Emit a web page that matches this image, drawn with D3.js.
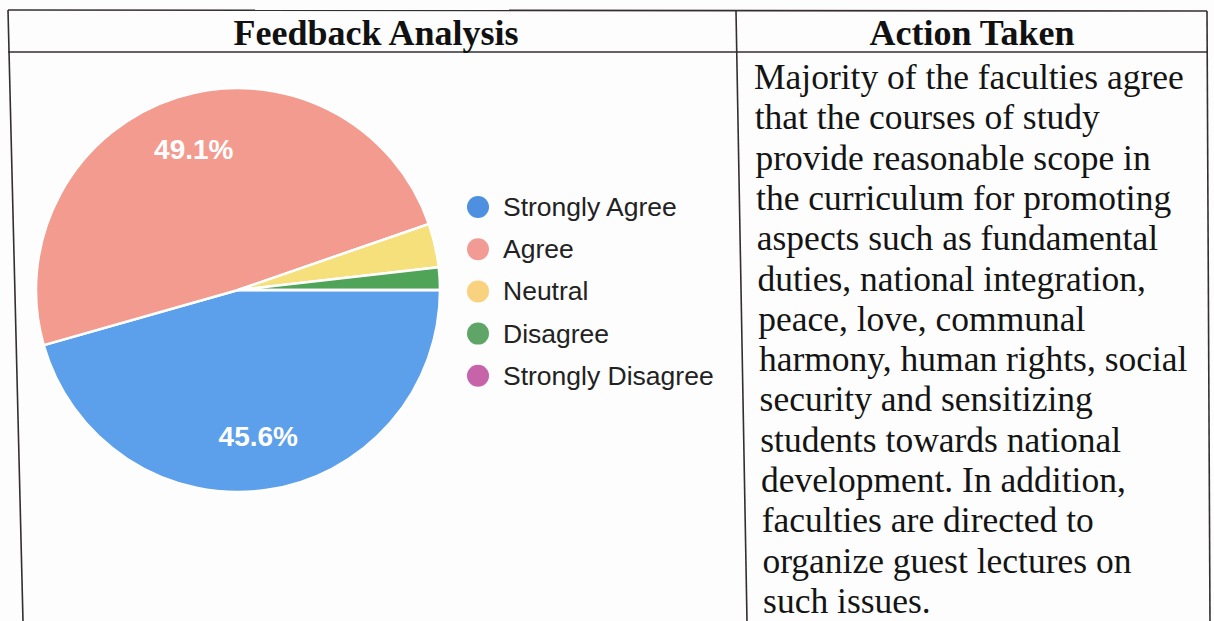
<!DOCTYPE html>
<html>
<head>
<meta charset="utf-8">
<script src="https://cdn.jsdelivr.net/npm/d3@7"></script>
<style>
  body { margin: 0; background: #fdfdfd; }
  svg { display: block; }
</style>
</head>
<body>
<div id="chart"></div>
<script>
// data
var categories = ["Strongly Agree", "Agree", "Neutral", "Disagree", "Strongly Disagree"];
var values = [45.6, 49.1, 3.5, 1.8, 0];
var sliceColors = ["#5c9fea", "#f49b8f", "#f5e07c", "#4fa457", "#c563a7"];
var legendColors = ["#4f8fe0", "#f29a94", "#f8d27e", "#5fa567", "#c763a8"];
var headers = ["Feedback Analysis", "Action Taken"];
var actionLines = [
  "Majority of the faculties agree",
  "that the courses of study",
  "provide reasonable scope in",
  "the curriculum for promoting",
  "aspects such as fundamental",
  "duties, national integration,",
  "peace, love, communal",
  "harmony, human rights, social",
  "security and sensitizing",
  "students towards national",
  "development. In addition,",
  "faculties are directed to",
  "organize guest lectures on",
  "such issues."
];

var svgWidth = 1214;
var svgHeight = 621;

var svg = d3.select("#chart")
  .append("svg")
  .attr("width", svgWidth)
  .attr("height", svgHeight);

// table frame (scan is a bit skewed)
var lineColor = "#352e31";
var frame = [
  [8, 10, 1207, 11],
  [8, 52, 1208, 52],
  [8, 10, 23, 621],
  [736, 11, 747, 621],
  [1207, 11, 1210, 621]
];
svg.append("g").selectAll("line")
  .data(frame)
  .enter()
  .append("line")
  .attr("x1", d => d[0]).attr("y1", d => d[1])
  .attr("x2", d => d[2]).attr("y2", d => d[3])
  .attr("stroke", lineColor)
  .attr("stroke-width", 1.6);

// header texts
svg.append("g").selectAll("text")
  .data(headers)
  .enter()
  .append("text")
  .attr("x", (d, i) => i == 0 ? 376 : 972)
  .attr("y", 45)
  .attr("text-anchor", "middle")
  .attr("font-family", "'Liberation Serif', 'Times New Roman', serif")
  .attr("font-weight", "bold")
  .attr("font-size", "36px")
  .attr("fill", "#111")
  .text(d => d);

// pie
var cx = 238, cy = 290, radius = 202;

var pie = d3.pie()
  .sort(null)
  .startAngle(Math.PI / 2)
  .endAngle(Math.PI / 2 + 2 * Math.PI)
  .value(d => d);

var arc = d3.arc().innerRadius(0).outerRadius(radius);
var labelArc = d3.arc().innerRadius(radius * 0.73).outerRadius(radius * 0.73);

var pieGroup = svg.append("g")
  .attr("transform", `translate(${cx}, ${cy})`);

var arcs = pie(values);

pieGroup.selectAll("path")
  .data(arcs)
  .enter()
  .append("path")
  .attr("d", arc)
  .attr("fill", (d, i) => sliceColors[i])
  .attr("stroke", "#ffffff")
  .attr("stroke-width", 2.5);

pieGroup.selectAll("text")
  .data(arcs.filter(d => d.data >= 10))
  .enter()
  .append("text")
  .attr("transform", d => `translate(${labelArc.centroid(d)})`)
  .attr("text-anchor", "middle")
  .attr("dominant-baseline", "central")
  .attr("font-family", "'Liberation Sans', Arial, sans-serif")
  .attr("font-weight", "bold")
  .attr("font-size", "28px")
  .attr("fill", "#ffffff")
  .text(d => d.data.toFixed(1) + "%");

// legend
var legend = svg.append("g")
  .attr("transform", "translate(478, 207)");

var legendItems = legend.selectAll("g")
  .data(categories)
  .enter()
  .append("g")
  .attr("transform", (d, i) => `translate(0, ${i * 42.2})`);

legendItems.append("circle")
  .attr("r", 11)
  .attr("fill", (d, i) => legendColors[i]);

legendItems.append("text")
  .attr("x", 25)
  .attr("dominant-baseline", "central")
  .attr("font-family", "'Liberation Sans', Arial, sans-serif")
  .attr("font-size", "26.5px")
  .attr("fill", "#222")
  .text(d => d);

// action taken text
svg.append("g").selectAll("text")
  .data(actionLines)
  .enter()
  .append("text")
  .attr("x", (d, i) => 754 + i * 0.7)
  .attr("y", (d, i) => 89 + i * 40.3)
  .attr("font-family", "'Liberation Serif', 'Times New Roman', serif")
  .attr("font-size", "35.5px")
  .attr("fill", "#141414")
  .text(d => d);
</script>
</body>
</html>
